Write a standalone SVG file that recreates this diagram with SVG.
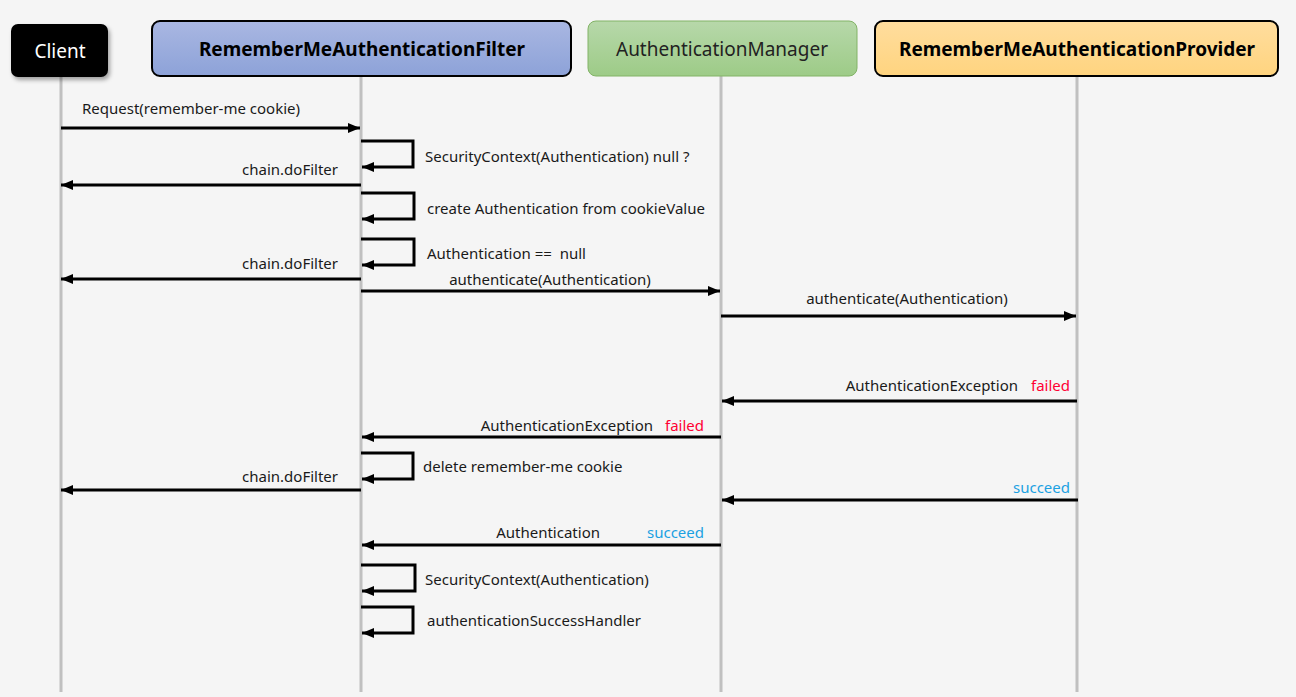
<svg xmlns="http://www.w3.org/2000/svg" width="1296" height="697" viewBox="0 0 1296 697">
<style>
.life{stroke:#c0c0c0;stroke-width:3;fill:none}
.msg{stroke:#000;stroke-width:3;fill:none}
.lbl{font-family:"Noto Sans","Open Sans","Liberation Sans",sans-serif;font-size:15px;fill:#1a1a1a;white-space:pre}
.red{fill:#ff0033}
.blue{fill:#1ba1e2}
.title{font-family:"Noto Sans","Open Sans","Liberation Sans",sans-serif;font-size:19px;text-anchor:middle}
</style>
<defs>
<marker id="ah" viewBox="0 0 12 10" refX="12" refY="5" markerWidth="12" markerHeight="10" markerUnits="userSpaceOnUse" orient="auto">
<path d="M0,0 L12,5 L0,10 Z" fill="#000"/>
</marker>
<linearGradient id="gBlue" x1="0" y1="0" x2="0" y2="1"><stop offset="0" stop-color="#a9b7e2"/><stop offset="1" stop-color="#8da2d8"/></linearGradient>
<linearGradient id="gGreen" x1="0" y1="0" x2="0" y2="1"><stop offset="0" stop-color="#b7d8aa"/><stop offset="1" stop-color="#9dcb87"/></linearGradient>
<linearGradient id="gOrange" x1="0" y1="0" x2="0" y2="1"><stop offset="0" stop-color="#ffdd9e"/><stop offset="1" stop-color="#ffd47f"/></linearGradient>
<filter id="sh" x="-20%" y="-20%" width="150%" height="160%"><feDropShadow dx="2" dy="3" stdDeviation="2" flood-color="#000" flood-opacity="0.35"/></filter>
</defs>
<rect width="1296" height="697" fill="#f5f5f5"/>
<g id="lifelines">
<line class="life" x1="61" y1="77" x2="61" y2="692"/>
<line class="life" x1="361" y1="76" x2="361" y2="692"/>
<line class="life" x1="721" y1="76" x2="721" y2="692"/>
<line class="life" x1="1077" y1="76" x2="1077" y2="692"/>
</g>
<g id="client">
<rect x="11" y="24" width="97" height="53" rx="7" fill="#000" filter="url(#sh)"/>
<text class="title" x="60" y="58" fill="#fff">Client</text>
</g>
<g id="filter">
<rect x="152" y="21" width="419" height="55" rx="8" fill="url(#gBlue)" stroke="#000" stroke-width="2"/>
<text class="title" x="362" y="56" font-weight="bold" fill="#000">RememberMeAuthenticationFilter</text>
</g>
<g id="manager">
<rect x="588" y="21" width="269" height="55" rx="8" fill="url(#gGreen)" stroke="#82b366" stroke-width="1"/>
<text class="title" x="722" y="56" fill="#222">AuthenticationManager</text>
</g>
<g id="provider">
<rect x="875" y="21" width="403" height="55" rx="8" fill="url(#gOrange)" stroke="#000" stroke-width="2"/>
<text class="title" x="1077" y="56" font-weight="bold" fill="#000">RememberMeAuthenticationProvider</text>
</g>
<g id="connectors">
<line class="msg" x1="61" y1="128" x2="360" y2="128" marker-end="url(#ah)"/>
<text class="lbl" x="82" y="114">Request(remember-me cookie)</text>

<path class="msg" d="M361,141 H413 V167 H362" marker-end="url(#ah)"/>
<text class="lbl" x="425" y="162">SecurityContext(Authentication) null ?</text>

<line class="msg" x1="361" y1="185" x2="61" y2="185" marker-end="url(#ah)"/>
<text class="lbl" x="338" y="175" text-anchor="end">chain.doFilter</text>

<path class="msg" d="M361,193 H414 V219 H362" marker-end="url(#ah)"/>
<text class="lbl" x="427" y="214">create Authentication from cookieValue</text>

<path class="msg" d="M361,239 H414 V265 H362" marker-end="url(#ah)"/>
<text class="lbl" x="427" y="259" xml:space="preserve">Authentication ==  null</text>

<line class="msg" x1="361" y1="279" x2="61" y2="279" marker-end="url(#ah)"/>
<text class="lbl" x="338" y="269" text-anchor="end">chain.doFilter</text>

<line class="msg" x1="361" y1="291" x2="720" y2="291" marker-end="url(#ah)"/>
<text class="lbl" x="550" y="285" text-anchor="middle">authenticate(Authentication)</text>

<line class="msg" x1="721" y1="316" x2="1076" y2="316" marker-end="url(#ah)"/>
<text class="lbl" x="907" y="304" text-anchor="middle">authenticate(Authentication)</text>

<line class="msg" x1="1077" y1="401" x2="722" y2="401" marker-end="url(#ah)"/>
<text class="lbl" x="1018" y="391" text-anchor="end">AuthenticationException</text>
<text class="lbl red" x="1070" y="391" text-anchor="end">failed</text>

<line class="msg" x1="721" y1="437" x2="362" y2="437" marker-end="url(#ah)"/>
<text class="lbl" x="653" y="431" text-anchor="end">AuthenticationException</text>
<text class="lbl red" x="704" y="431" text-anchor="end">failed</text>

<path class="msg" d="M361,453 H413 V479 H362" marker-end="url(#ah)"/>
<text class="lbl" x="423" y="472">delete remember-me cookie</text>

<line class="msg" x1="361" y1="490" x2="61" y2="490" marker-end="url(#ah)"/>
<text class="lbl" x="338" y="482" text-anchor="end">chain.doFilter</text>

<line class="msg" x1="1078" y1="500" x2="722" y2="500" marker-end="url(#ah)"/>
<text class="lbl blue" x="1070" y="493" text-anchor="end">succeed</text>

<line class="msg" x1="721" y1="545" x2="362" y2="545" marker-end="url(#ah)"/>
<text class="lbl" x="600" y="538" text-anchor="end">Authentication</text>
<text class="lbl blue" x="704" y="538" text-anchor="end">succeed</text>

<path class="msg" d="M361,565 H415 V591 H362" marker-end="url(#ah)"/>
<text class="lbl" x="425" y="585">SecurityContext(Authentication)</text>

<path class="msg" d="M361,607 H413 V633 H362" marker-end="url(#ah)"/>
<text class="lbl" x="427" y="626">authenticationSuccessHandler</text>
</g>
</svg>
